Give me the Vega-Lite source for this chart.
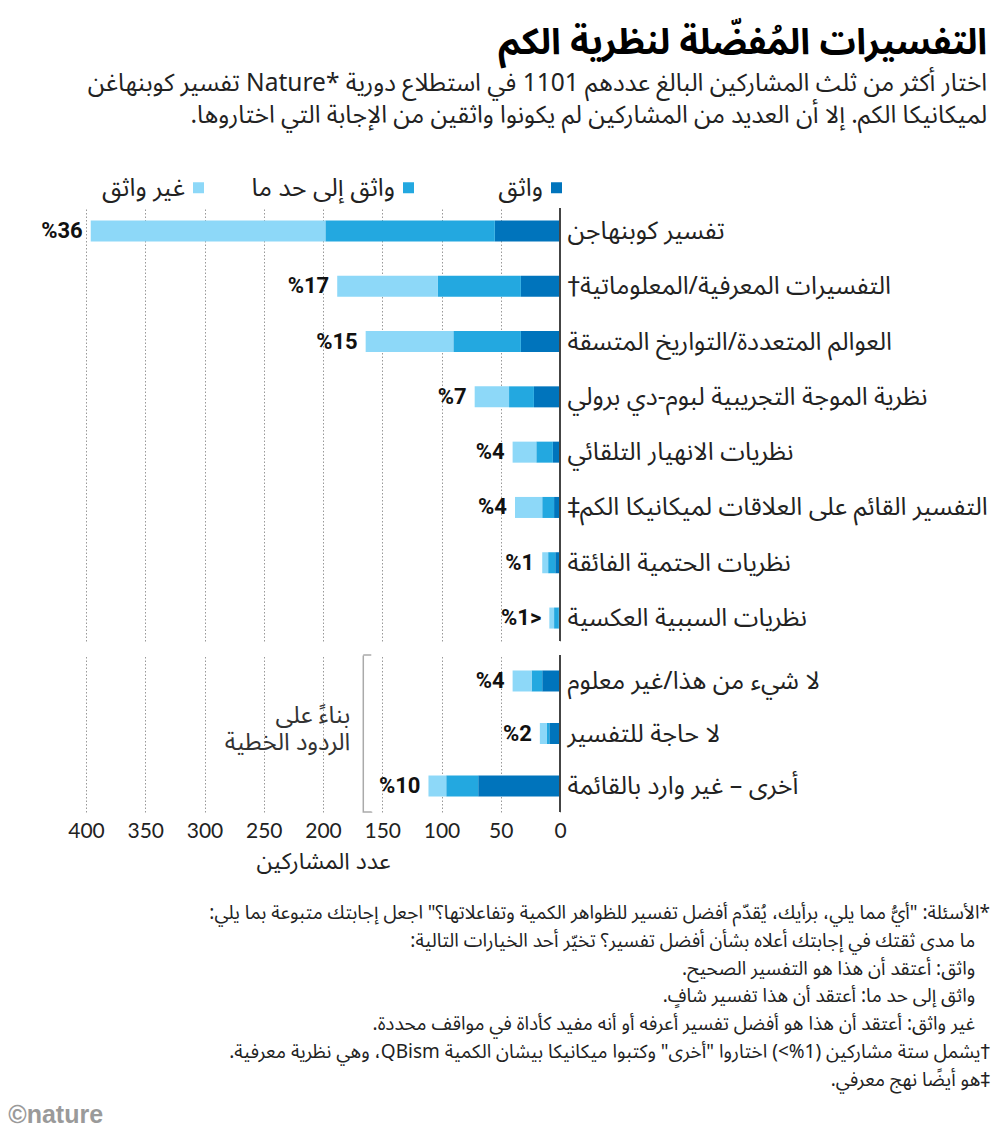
{
  "$schema": "https://vega.github.io/schema/vega-lite/v6.json",
  "background": "white",
  "padding": {"left": 8, "top": 24, "right": 5, "bottom": 5},
  "config": {
    "font": "Noto Sans Arabic, DejaVu Sans, sans-serif",
    "view": {"stroke": null},
    "concat": {"spacing": 12},
    "axis": {"labelFont": "Noto Sans Arabic, DejaVu Sans, sans-serif", "titleFont": "Noto Sans Arabic, DejaVu Sans, sans-serif"}
  },
  "datasets": {
    "top": [
      {"q": "تفسير كوبنهاجن", "c": "واثق", "k": 1, "n": 55, "p": "%36"},
      {"q": "تفسير كوبنهاجن", "c": "واثق إلى حد ما", "k": 2, "n": 143, "p": "%36"},
      {"q": "تفسير كوبنهاجن", "c": "غير واثق", "k": 3, "n": 198, "p": "%36"},
      {"q": "\u202bالتفسيرات المعرفية/المعلوماتية†\u202c", "c": "واثق", "k": 1, "n": 33, "p": "%17"},
      {"q": "\u202bالتفسيرات المعرفية/المعلوماتية†\u202c", "c": "واثق إلى حد ما", "k": 2, "n": 70, "p": "%17"},
      {"q": "\u202bالتفسيرات المعرفية/المعلوماتية†\u202c", "c": "غير واثق", "k": 3, "n": 85, "p": "%17"},
      {"q": "العوالم المتعددة/التواريخ المتسقة", "c": "واثق", "k": 1, "n": 33, "p": "%15"},
      {"q": "العوالم المتعددة/التواريخ المتسقة", "c": "واثق إلى حد ما", "k": 2, "n": 57, "p": "%15"},
      {"q": "العوالم المتعددة/التواريخ المتسقة", "c": "غير واثق", "k": 3, "n": 74, "p": "%15"},
      {"q": "نظرية الموجة التجريبية لبوم-دي برولي", "c": "واثق", "k": 1, "n": 22, "p": "%7"},
      {"q": "نظرية الموجة التجريبية لبوم-دي برولي", "c": "واثق إلى حد ما", "k": 2, "n": 21, "p": "%7"},
      {"q": "نظرية الموجة التجريبية لبوم-دي برولي", "c": "غير واثق", "k": 3, "n": 29, "p": "%7"},
      {"q": "نظريات الانهيار التلقائي", "c": "واثق", "k": 1, "n": 6, "p": "%4"},
      {"q": "نظريات الانهيار التلقائي", "c": "واثق إلى حد ما", "k": 2, "n": 14, "p": "%4"},
      {"q": "نظريات الانهيار التلقائي", "c": "غير واثق", "k": 3, "n": 20, "p": "%4"},
      {"q": "\u202bالتفسير القائم على العلاقات لميكانيكا الكم‡\u202c", "c": "واثق", "k": 1, "n": 5, "p": "%4"},
      {"q": "\u202bالتفسير القائم على العلاقات لميكانيكا الكم‡\u202c", "c": "واثق إلى حد ما", "k": 2, "n": 10, "p": "%4"},
      {"q": "\u202bالتفسير القائم على العلاقات لميكانيكا الكم‡\u202c", "c": "غير واثق", "k": 3, "n": 23, "p": "%4"},
      {"q": "نظريات الحتمية الفائقة", "c": "واثق", "k": 1, "n": 4, "p": "%1"},
      {"q": "نظريات الحتمية الفائقة", "c": "واثق إلى حد ما", "k": 2, "n": 6, "p": "%1"},
      {"q": "نظريات الحتمية الفائقة", "c": "غير واثق", "k": 3, "n": 5, "p": "%1"},
      {"q": "نظريات السببية العكسية", "c": "واثق", "k": 1, "n": 1, "p": "%1>"},
      {"q": "نظريات السببية العكسية", "c": "واثق إلى حد ما", "k": 2, "n": 4, "p": "%1>"},
      {"q": "نظريات السببية العكسية", "c": "غير واثق", "k": 3, "n": 4, "p": "%1>"}
    ],
    "bottom": [
      {"q": "لا شيء من هذا/غير معلوم", "c": "واثق", "k": 1, "n": 15, "p": "%4"},
      {"q": "لا شيء من هذا/غير معلوم", "c": "واثق إلى حد ما", "k": 2, "n": 9, "p": "%4"},
      {"q": "لا شيء من هذا/غير معلوم", "c": "غير واثق", "k": 3, "n": 16, "p": "%4"},
      {"q": "لا حاجة للتفسير", "c": "واثق", "k": 1, "n": 9, "p": "%2"},
      {"q": "لا حاجة للتفسير", "c": "واثق إلى حد ما", "k": 2, "n": 2, "p": "%2"},
      {"q": "لا حاجة للتفسير", "c": "غير واثق", "k": 3, "n": 6, "p": "%2"},
      {"q": "أخرى – غير وارد بالقائمة", "c": "واثق", "k": 1, "n": 69, "p": "%10"},
      {"q": "أخرى – غير وارد بالقائمة", "c": "واثق إلى حد ما", "k": 2, "n": 27, "p": "%10"},
      {"q": "أخرى – غير وارد بالقائمة", "c": "غير واثق", "k": 3, "n": 15, "p": "%10"}
    ]
  },
  "title": {
    "text": "©nature",
    "orient": "bottom",
    "anchor": "start",
    "font": "Liberation Sans Narrow, Liberation Sans, sans-serif",
    "fontSize": 25,
    "fontWeight": "bold",
    "color": "#9a9a9a",
    "offset": 13,
    "dx": -33
  },
  "resolve": {"legend": {"color": "independent"}},
  "vconcat": [
    {
      "width": 474,
      "height": 433,
      "data": {"name": "top"},
      "title": {
        "text": "التفسيرات المُفضّلة لنظرية الكم",
        "subtitle": [
          "\u202bاختار أكثر من ثلث المشاركين البالغ عددهم 1101 في استطلاع دورية Nature*\u200e تفسير كوبنهاغن\u202c",
          "\u202bلميكانيكا الكم. إلا أن العديد من المشاركين لم يكونوا واثقين من الإجابة التي اختاروها.\u202c"
        ],
        "anchor": "end",
        "frame": "bounds",
        "fontSize": 36,
        "fontWeight": "bold",
        "color": "#000",
        "subtitleFontSize": 24.5,
        "subtitleColor": "#222",
        "subtitleLineHeight": 32,
        "subtitlePadding": 10,
        "offset": 47
      },
      "layer": [
        {
          "mark": {"type": "bar"},
          "encoding": {
            "y": {
              "field": "q", "type": "nominal", "sort": null,
              "scale": {"paddingInner": 0.62, "paddingOuter": 0.225},
              "axis": {"orient": "right", "title": null, "ticks": false, "domain": false, "grid": false, "labelFontSize": 25, "labelPadding": 7, "labelLimit": 600, "labelColor": "#222"}
            },
            "x": {
              "field": "n", "type": "quantitative", "stack": "zero",
              "scale": {"domain": [0, 400], "reverse": true, "nice": false},
              "axis": {"values": [0, 50, 100, 150, 200, 250, 300, 350, 400], "labels": false, "ticks": false, "domain": false, "title": null, "grid": true, "gridColor": "#999", "gridDash": [1.5, 2], "gridWidth": 1}
            },
            "color": {
              "field": "c", "type": "nominal",
              "scale": {"domain": ["واثق", "واثق إلى حد ما", "غير واثق"], "range": ["#0074BC", "#23A8E0", "#8DD8F8"]},
              "legend": {
                "orient": "none", "legendX": 100, "legendY": -33, "direction": "horizontal", "title": null,
                "values": ["غير واثق", "واثق إلى حد ما", "واثق"],
                "labelExpr": "length(datum.label) < 5 ? '\u2800\u2800' + datum.label : datum.label",
                "symbolType": "square", "symbolSize": 121, "symbolStrokeWidth": 0,
                "labelFontSize": 25, "labelColor": "#222", "labelAlign": "right", "labelOffset": -26, "labelLimit": 300,
                "columnPadding": 47
              }
            },
            "order": {"field": "k", "sort": "ascending"}
          }
        },
        {
          "mark": {"type": "text", "align": "right", "baseline": "middle", "dx": -8, "font": "Roboto, Liberation Sans, sans-serif", "fontWeight": "bold", "fontSize": 22, "color": "#111"},
          "encoding": {
            "y": {"field": "q", "type": "nominal", "sort": null},
            "x": {"aggregate": "sum", "field": "n", "type": "quantitative"},
            "text": {"field": "p"}
          }
        },
        {
          "mark": {"type": "rule", "color": "#444", "strokeWidth": 2, "y2Offset": 12},
          "encoding": {"x": {"datum": 0}}
        }
      ]
    },
    {
      "width": 474,
      "height": 157,
      "data": {"name": "bottom"},
      "title": {
        "text": [
          "\u202b*الأسئلة: \"أيُّ مما يلي، برأيك، يُقدّم أفضل تفسير للظواهر الكمية وتفاعلاتها؟\" اجعل إجابتك متبوعة بما يلي:\u202c",
          "\u202b\u00a0\u00a0\u00a0ما مدى ثقتك في إجابتك أعلاه بشأن أفضل تفسير؟ تخيّر أحد الخيارات التالية:\u202c",
          "\u202b\u00a0\u00a0\u00a0واثق: أعتقد أن هذا هو التفسير الصحيح.\u202c",
          "\u202b\u00a0\u00a0\u00a0واثق إلى حد ما: أعتقد أن هذا تفسير شافٍ.\u202c",
          "\u202b\u00a0\u00a0\u00a0غير واثق: أعتقد أن هذا هو أفضل تفسير أعرفه أو أنه مفيد كأداة في مواقف محددة.\u202c",
          "\u202b†يشمل ستة مشاركين (1%>) اختاروا \"أخرى\" وكتبوا ميكانيكا بيشان الكمية QBism، وهي نظرية معرفية.\u202c",
          "\u202b‡هو أيضًا نهج معرفي.\u202c"
        ],
        "orient": "bottom",
        "anchor": "end",
        "frame": "group",
        "dx": 430,
        "fontSize": 19,
        "fontWeight": "normal",
        "lineHeight": 27.8,
        "color": "#222",
        "offset": 31
      },
      "layer": [
        {
          "mark": {"type": "bar"},
          "encoding": {
            "y": {
              "field": "q", "type": "nominal", "sort": null,
              "scale": {"paddingInner": 0.6, "paddingOuter": 0.295},
              "axis": {"orient": "right", "title": null, "ticks": false, "domain": false, "grid": false, "labelFontSize": 25, "labelPadding": 7, "labelLimit": 600, "labelColor": "#222"}
            },
            "x": {
              "field": "n", "type": "quantitative", "stack": "zero",
              "scale": {"domain": [0, 400], "reverse": true, "nice": false},
              "axis": {"values": [0, 50, 100, 150, 200, 250, 300, 350, 400], "labels": true, "labelFlush": false, "ticks": false, "domain": false, "grid": true, "gridColor": "#999", "gridDash": [1.5, 2], "gridWidth": 1, "labelFontSize": 21, "labelColor": "#222", "labelPadding": 8, "labelFont": "Lato, Roboto, sans-serif", "title": "عدد المشاركين", "titleFontSize": 23, "titleFontWeight": "normal", "titleColor": "#222", "titlePadding": 9}
            },
            "color": {
              "field": "c", "type": "nominal",
              "scale": {"domain": ["واثق", "واثق إلى حد ما", "غير واثق"], "range": ["#0074BC", "#23A8E0", "#8DD8F8"]},
              "legend": null
            },
            "order": {"field": "k", "sort": "ascending"}
          }
        },
        {
          "mark": {"type": "text", "align": "right", "baseline": "middle", "dx": -8, "font": "Roboto, Liberation Sans, sans-serif", "fontWeight": "bold", "fontSize": 22, "color": "#111"},
          "encoding": {
            "y": {"field": "q", "type": "nominal", "sort": null},
            "x": {"aggregate": "sum", "field": "n", "type": "quantitative"},
            "text": {"field": "p"}
          }
        },
        {
          "mark": {"type": "rule", "color": "#444", "strokeWidth": 2},
          "encoding": {"x": {"datum": 0}}
        },
        {
          "data": {"values": [{}]},
          "mark": {"type": "rect", "fillOpacity": 0, "stroke": "#aaa", "strokeWidth": 1.5, "strokeDash": [8, 157, 165]},
          "encoding": {"x": {"datum": 166}, "x2": {"datum": 159}}
        },
        {
          "data": {"values": [{}]},
          "mark": {"type": "text", "align": "right", "baseline": "middle", "dy": -18, "fontSize": 24, "lineHeight": 27, "color": "#333"},
          "encoding": {"x": {"datum": 177}, "text": {"value": ["بناءً على", "الردود الخطية"]}}
        }
      ]
    }
  ]
}
